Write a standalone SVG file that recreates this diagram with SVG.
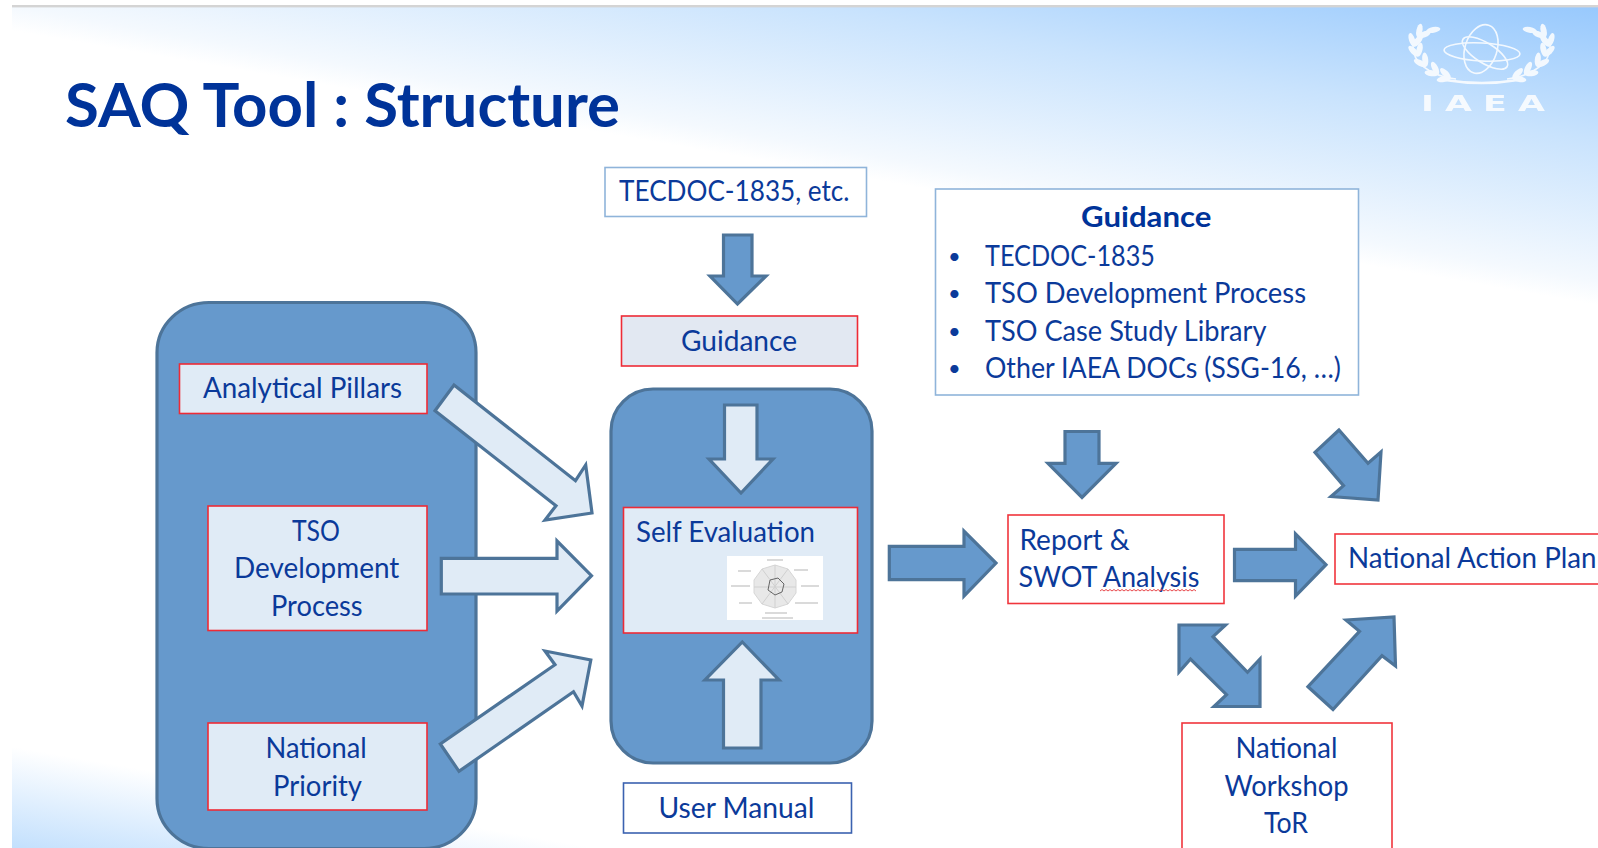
<svg xmlns="http://www.w3.org/2000/svg" width="1598" height="848" viewBox="0 0 1598 848">
<style>
text{font-family:"Lato","Open Sans","Liberation Sans",sans-serif;font-size:28px;fill:#0b3a9a}
.b{font-weight:700;fill:#003399}
.d{font-size:22px}
.ar{fill:#6699cc;stroke:#4d7499;stroke-width:3.200;stroke-linejoin:miter}
.al{fill:#e0ebf6;stroke:#4d7499;stroke-width:3.200;stroke-linejoin:miter}
.big{fill:#6699cc;stroke:#4d7499;stroke-width:3.200}
.rl{fill:#e0ebf6;stroke:#ee2b36;stroke-width:1.600}
.rw{fill:#fff;stroke:#f0353c;stroke-width:1.600}
.bw{fill:#fff;stroke:#8fb4da;stroke-width:1.600}
.th{stroke:#b5b5b5;stroke-width:1;fill:none}
</style>
<defs>
<linearGradient id="skyTop" gradientUnits="userSpaceOnUse" x1="800" y1="167" x2="850" y2="-122">
<stop offset="0" stop-color="#fff"/><stop offset=".08" stop-color="#f4f9fe"/><stop offset=".55" stop-color="#c9e3fd"/><stop offset="1" stop-color="#98c9fd"/>
</linearGradient>
<linearGradient id="skyBottom" gradientUnits="userSpaceOnUse" x1="100" y1="762" x2="83" y2="860">
<stop offset="0" stop-color="#fff"/><stop offset="1" stop-color="#c3e0fd"/>
</linearGradient>
<filter id="soft" x="-5%" y="-5%" width="110%" height="110%"><feGaussianBlur stdDeviation=".6"/></filter>
<ellipse id="leaf" cx="6.500" cy="0" rx="7" ry="3" fill="#fff"/>
<g id="branch">
<path d="M1456 79C1430 76 1412 62 1413 46C1414 38 1424 31 1436 28" fill="none" stroke="#fff" stroke-width="1.500"/>
<use href="#leaf" transform="translate(1450 78) rotate(225)"/><use href="#leaf" transform="translate(1450 78) rotate(170)"/>
<use href="#leaf" transform="translate(1438 74) rotate(243)"/><use href="#leaf" transform="translate(1438 74) rotate(187)"/>
<use href="#leaf" transform="translate(1426 66) rotate(263)"/><use href="#leaf" transform="translate(1426 66) rotate(207)"/>
<use href="#leaf" transform="translate(1418 56) rotate(283)"/><use href="#leaf" transform="translate(1418 56) rotate(227)"/>
<use href="#leaf" transform="translate(1414 46) rotate(308)"/><use href="#leaf" transform="translate(1414 46) rotate(252)"/>
<use href="#leaf" transform="translate(1418 37) rotate(338)"/><use href="#leaf" transform="translate(1418 37) rotate(282)"/>
<use href="#leaf" transform="translate(1427 31) rotate(350)"/>
</g>
</defs>

<g id="background">
<rect x="0" y="0" width="1598" height="848" fill="#fff"/>
<rect x="12" y="7" width="1586" height="300" fill="url(#skyTop)"/>
<rect x="12" y="700" width="760" height="148" fill="url(#skyBottom)"/>
<rect x="12" y="5" width="1586" height="2.400" fill="#d4d4d4"/>
</g>

<g id="title"><text class="b" x="65" y="127" style="font-size:62px" textLength="555" lengthAdjust="spacingAndGlyphs">SAQ Tool : Structure</text></g>

<g id="logo" opacity=".85" filter="url(#soft)">
<use href="#branch"/>
<use href="#branch" transform="translate(2963 0) scale(-1 1)"/>
<path d="M1445 80Q1482 86 1518 80" fill="none" stroke="#fff" stroke-width="2.500"/>
<g fill="none" stroke="#fff" stroke-width="1.600">
<ellipse cx="1482" cy="52" rx="38" ry="9" transform="rotate(3 1482 52)"/>
<ellipse cx="1481" cy="49" rx="16" ry="25" transform="rotate(18 1481 49)"/>
<ellipse cx="1485" cy="53" rx="26" ry="10" transform="rotate(32 1485 53)"/>
</g>
<text x="1421" y="111" textLength="135" lengthAdjust="spacingAndGlyphs" style="font-family:'DejaVu Sans',sans-serif;font-size:22px;font-weight:700;fill:#fff;letter-spacing:7px">IAEA</text>
</g>

<g id="node-left-panel"><rect class="big" x="157" y="302.500" width="319" height="546" rx="52" ry="50"/></g>
<g id="node-self-panel"><rect class="big" x="611" y="389" width="261" height="374" rx="42" ry="42"/></g>

<g id="connectors">
<polygon class="ar" points="723.500,235 752,235 752,276 766,276 737.500,304 710,276 723.500,276"/>
<polygon class="al" points="454,385 575.500,480.700 585.700,465 592,513 545,520 556,505.700 435,410.700"/>
<polygon class="al" points="441.300,558.300 557,558.300 557,541 591.500,575.700 557,611 557,594 441.300,594"/>
<polygon class="al" points="440.300,744 555,664.700 545,651 590.800,660 582,706 573.500,691.700 459,771.300"/>
<polygon class="al" points="724.500,405 757,405 757,459 773,459 741,493 709,459 724.500,459"/>
<polygon class="al" points="742.300,642 779,680 761,680 761,748 723.500,748 723.500,680 705,680"/>
<polygon class="ar" points="889.300,546.300 964,546.300 964,531 996,563 964,596 964,579.700 889.300,579.700"/>
<polygon class="ar" points="1234.500,549.300 1295.500,549.300 1295.500,534 1326,564.700 1295.500,596 1295.500,580.700 1234.500,580.700"/>
<polygon class="ar" points="1065,431.500 1099,431.500 1099,463.300 1116,463.300 1082,497.500 1048,463.300 1065,463.300"/>
<polygon class="ar" points="1339,430 1315,452.300 1343.500,485.700 1331,496.500 1378,500 1381,452 1368,463.300"/>
<polygon class="ar" points="1179,625 1225.500,625 1213,636.700 1247.500,672.300 1260,659 1260,706.500 1214,706.500 1226.500,694.700 1190.500,659 1179,672"/>
<polygon class="ar" points="1308,686.700 1333,709.500 1382,655.700 1395.500,666 1394,617 1346,620 1359.500,631.300"/>
</g>

<g id="node-tecdoc"><rect class="bw" x="605" y="167.500" width="261.500" height="49"/><text x="619" y="201" textLength="230.500" lengthAdjust="spacingAndGlyphs">TECDOC-1835, etc.</text></g>
<g id="node-guidance"><rect x="621.500" y="316" width="236" height="50" fill="#e2e8f2" stroke="#ee2b36" stroke-width="1.600"/><text x="681" y="351" textLength="116" lengthAdjust="spacingAndGlyphs">Guidance</text></g>
<g id="node-analytical"><rect class="rl" x="179.500" y="364" width="247.500" height="49.500"/><text x="203" y="398" textLength="199" lengthAdjust="spacingAndGlyphs">Analytical Pillars</text></g>
<g id="node-tso"><rect class="rl" x="208" y="506" width="219" height="124.500"/>
<text x="292" y="541" textLength="48" lengthAdjust="spacingAndGlyphs">TSO</text>
<text x="234" y="578.300" textLength="165.300" lengthAdjust="spacingAndGlyphs">Development</text>
<text x="271" y="615.700" textLength="91.600" lengthAdjust="spacingAndGlyphs">Process</text></g>
<g id="node-priority"><rect class="rl" x="208" y="723" width="219" height="87"/>
<text x="265.500" y="758.300" textLength="101.200" lengthAdjust="spacingAndGlyphs">National</text>
<text x="273" y="795.700" textLength="89" lengthAdjust="spacingAndGlyphs">Priority</text></g>
<g id="node-self-eval"><rect class="rl" x="623.500" y="507.500" width="234" height="125.500"/>
<text x="636" y="542" textLength="179" lengthAdjust="spacingAndGlyphs">Self Evaluation</text>
<g filter="url(#soft)">
<rect x="727" y="556" width="96" height="64" fill="#fff"/>
<polygon points="775,565 788,569 796,580 796,593 788,604 775,608 762,604 754,593 754,580 762,569" fill="#e8e8e8" stroke="#d6d6d6"/>
<path d="M775 565V608M754 587H796M762 569L788 604M788 569L762 604" fill="none" stroke="#d0d0d0"/>
<path d="M770 580L778 578L784 584L782 592L775 595L768 590Z" fill="none" stroke="#666" stroke-width="1"/>
<path class="th" d="M767 560H783M794 570H808M801 586H819M795 603H818M738 571H751M731 586H750M739 603H752M765 613H787M762 618H793"/>
</g></g>
<g id="node-user-manual"><rect x="623.500" y="783" width="228" height="50" fill="#fff" stroke="#3b62b0" stroke-width="1.600"/><text x="658.500" y="818" textLength="156" lengthAdjust="spacingAndGlyphs">User Manual</text></g>
<g id="node-guidance-list"><rect class="bw" x="935.500" y="189" width="423" height="206"/>
<text class="b" x="1081" y="227" textLength="130.400" lengthAdjust="spacingAndGlyphs">Guidance</text>
<text class="d" x="948" y="264">•</text><text x="985" y="266" textLength="170" lengthAdjust="spacingAndGlyphs">TECDOC-1835</text>
<text class="d" x="948" y="301">•</text><text x="985" y="303" textLength="321" lengthAdjust="spacingAndGlyphs">TSO Development Process</text>
<text class="d" x="948" y="338.500">•</text><text x="985" y="340.500" textLength="281.500" lengthAdjust="spacingAndGlyphs">TSO Case Study Library</text>
<text class="d" x="948" y="376">•</text><text x="985" y="378" textLength="356" lengthAdjust="spacingAndGlyphs">Other IAEA DOCs (SSG-16, …)</text></g>
<g id="node-report"><rect class="rw" x="1008" y="515" width="216" height="88.500"/>
<text x="1019.500" y="550" textLength="110.200" lengthAdjust="spacingAndGlyphs">Report &amp;</text>
<text x="1018.500" y="587.300" textLength="181" lengthAdjust="spacingAndGlyphs">SWOT Analysis</text>
<path d="M1100 591l2-1.500 2 1.500 2-1.500 2 1.500 2-1.500 2 1.500 2-1.500 2 1.500 2-1.500 2 1.500 2-1.500 2 1.500 2-1.500 2 1.500 2-1.500 2 1.500 2-1.500 2 1.500 2-1.500 2 1.500 2-1.500 2 1.500 2-1.500 2 1.500 2-1.500 2 1.500 2-1.500 2 1.500 2-1.500 2 1.500 2-1.500 2 1.500 2-1.500 2 1.500 2-1.500 2 1.500 2-1.500 2 1.500 2-1.500 2 1.500 2-1.500 2 1.500 2-1.500 2 1.500 2-1.500 2 1.500 2-1.500 2 1.500" fill="none" stroke="#e8474c" stroke-width="1"/></g>
<g id="node-action-plan"><rect class="rw" x="1335" y="534" width="271" height="50"/><text x="1348" y="568.300" textLength="248.500" lengthAdjust="spacingAndGlyphs">National Action Plan</text></g>
<g id="node-workshop"><rect class="rw" x="1182" y="723" width="210" height="135"/>
<text x="1235.500" y="758.300" textLength="102" lengthAdjust="spacingAndGlyphs">National</text>
<text x="1224.500" y="795.700" textLength="124" lengthAdjust="spacingAndGlyphs">Workshop</text>
<text x="1264" y="833.300" textLength="44" lengthAdjust="spacingAndGlyphs">ToR</text></g>
</svg>
